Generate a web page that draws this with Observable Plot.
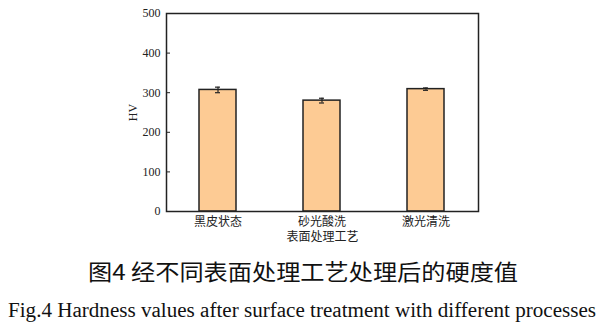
<!DOCTYPE html>
<html><head><meta charset="utf-8">
<script src="https://cdn.jsdelivr.net/npm/d3@7"></script>
<script src="https://cdn.jsdelivr.net/npm/@observablehq/plot@0.6"></script>
<style>
body{margin:0;background:#fff;}
#wrap{width:605px;}
svg{display:block;}
#chart svg, #chart svg text{font-family:'Liberation Serif','Noto Sans CJK SC',serif !important;}
</style></head>
<body><div id="wrap"><div id="chart"></div></div>
<script>
const categories = ["黑皮状态", "砂光酸洗", "激光清洗"];
const hardness = [307, 280, 309];
const errors = [7, 6, 3];
const yTicks = [0, 100, 200, 300, 400, 500];
const yLabel = "HV";
const xLabel = "表面处理工艺";
const captionZh = "图4  经不同表面处理工艺处理后的硬度值";
const captionEn = "Fig.4  Hardness values after surface treatment with different processes";

const data = categories.map((c, i) => ({cat: c, hv: hardness[i], err: errors[i]}));
const font = "Liberation Serif, Noto Sans CJK SC, serif";

const chart = Plot.plot({
  width: 605, height: 245,
  marginLeft: 166, marginRight: 127, marginTop: 13, marginBottom: 34,
  style: {fontSize: "12px", color: "#222", background: "#fff"},
  x: {domain: categories, paddingInner: 0.64, paddingOuter: 0.32},
  y: {domain: [0, 500]},
  marks: [
    Plot.barY(data, {x: "cat", y: "hv", fill: "#FDCB94", stroke: "#222", strokeWidth: 1.5}),
    Plot.ruleX(data, {x: "cat", y1: d => d.hv - d.err, y2: d => d.hv + d.err, stroke: "#222", strokeWidth: 1.2}),
    Plot.tickY(data, {x: "cat", y: d => d.hv - d.err, stroke: "#222", strokeWidth: 1.2, insetLeft: 16, insetRight: 16}),
    Plot.tickY(data, {x: "cat", y: d => d.hv + d.err, stroke: "#222", strokeWidth: 1.2, insetLeft: 16, insetRight: 16}),
    Plot.ruleY(yTicks, {y: d => d, stroke: "#222", strokeWidth: 1, insetRight: 308}),
    Plot.axisY(yTicks, {tickSize: 0, tickPadding: 6, fontSize: 12, fontFamily: font, label: yLabel, labelAnchor: "center", labelArrow: "none", labelOffset: 38}),
    Plot.axisX({tickSize: 0, tickPadding: 6, fontSize: 12, fontFamily: font, label: xLabel, labelAnchor: "center", labelArrow: "none", labelOffset: 29}),
    Plot.frame({stroke: "#222", strokeWidth: 1.5})
  ]
});
document.getElementById("chart").appendChild(chart);

const ns = "http://www.w3.org/2000/svg";
const cap = document.createElementNS(ns, "svg");
cap.setAttribute("width", 605);
cap.setAttribute("height", 85);
function addText(str, x, y, size, len, fam) {
  const t = document.createElementNS(ns, "text");
  t.setAttribute("x", x);
  t.setAttribute("y", y);
  t.setAttribute("font-size", size);
  t.setAttribute("font-family", fam);
  t.setAttribute("fill", "#111");
  t.setAttribute("textLength", len);
  t.setAttribute("lengthAdjust", "spacingAndGlyphs");
  t.textContent = str;
  cap.appendChild(t);
}
addText(captionZh, 88, 35, 22, 430, "'Noto Sans CJK SC','Liberation Serif',serif");
addText(captionEn, 8, 72, 20.5, 588, "'Liberation Serif',serif");
document.getElementById("wrap").appendChild(cap);
</script></body></html>
